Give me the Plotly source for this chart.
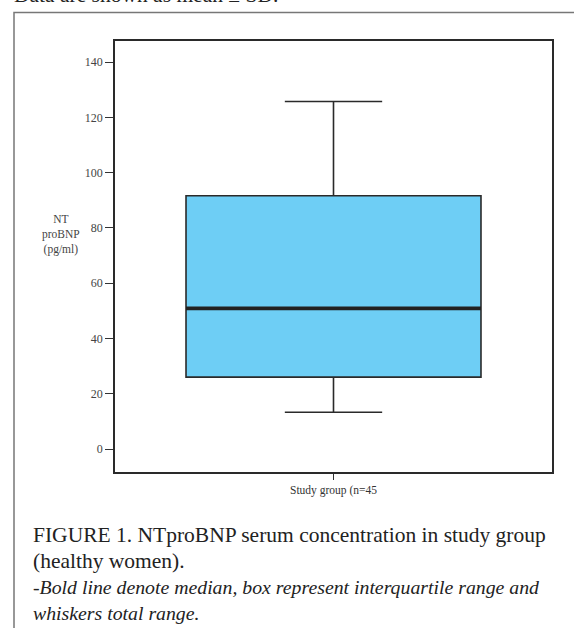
import plotly.graph_objects as go

# Data
group = ["Study group (n=45"]
lower_fence = [13.3]
q1 = [26.0]
median = [50.9]
q3 = [91.6]
upper_fence = [125.7]
y_ticks = [0, 20, 40, 60, 80, 100, 120, 140]

W, H = 574, 628
L, R, T, B = 115, 22, 41, 156
pw, ph = W - L - R, H - T - B

def px_x(p):
    return (p - L) / pw

def px_y(p):
    return (H - B - p) / ph

box_w = 0.675
fig = go.Figure()
fig.add_trace(go.Box(
    x=[0], q1=q1, median=median, q3=q3,
    lowerfence=lower_fence, upperfence=upper_fence,
    width=box_w, whiskerwidth=0.33,
    fillcolor="#6ECEF5",
    line=dict(color="#2a2a2a", width=1.6),
    boxpoints=False, showlegend=False, hoverinfo="skip",
))
# bold median line
fig.add_trace(go.Scatter(
    x=[-box_w / 2, box_w / 2], y=[median[0], median[0]],
    mode="lines", line=dict(color="#222222", width=3.6),
    showlegend=False, hoverinfo="skip",
))

serif = "Liberation Serif, Times New Roman, serif"

fig.update_layout(
    width=W, height=H,
    margin=dict(l=L, r=R, t=T, b=B),
    paper_bgcolor="white", plot_bgcolor="white",
    font=dict(family=serif, color="#333333"),
    xaxis=dict(
        range=[-0.5, 0.5], tickvals=[0], ticktext=group,
        ticks="outside", ticklen=6, tickcolor="#333333", tickwidth=1,
        tickfont=dict(size=11.5, color="#333333"),
        showline=True, linecolor="#2a2a2a", linewidth=1.5, mirror=True,
        showgrid=False, zeroline=False,
    ),
    yaxis=dict(
        range=[-8.3, 147.6], tickvals=y_ticks,
        ticks="outside", ticklen=8, tickcolor="#333333", tickwidth=1.2,
        tickfont=dict(size=12, color="#444444"),
        showline=True, linecolor="#2a2a2a", linewidth=1.5, mirror=True,
        showgrid=False, zeroline=False,
    ),
)

# outer frame
fig.add_shape(type="rect", xref="paper", yref="paper",
              x0=px_x(14), x1=px_x(590), y0=px_y(650), y1=px_y(12.5),
              line=dict(color="#777777", width=1.5), fillcolor="rgba(0,0,0,0)",
              layer="below")

# y title
fig.add_annotation(xref="paper", yref="paper", x=px_x(61), y=px_y(234),
                   text="NT<br>proBNP<br>(pg/ml)", showarrow=False,
                   font=dict(size=11.5, color="#444444"), align="center",
                   xanchor="center", yanchor="middle")

cap_font = dict(size=21.5, color="#222222", family=serif)
ital_font = dict(size=19.8, color="#222222", family=serif)
fig.add_annotation(xref="paper", yref="paper", x=px_x(31), y=px_y(535),
                   text="FIGURE 1. NTproBNP serum concentration in study group",
                   showarrow=False, font=cap_font, xanchor="left", yanchor="middle")
fig.add_annotation(xref="paper", yref="paper", x=px_x(31), y=px_y(561),
                   text="(healthy women).",
                   showarrow=False, font=cap_font, xanchor="left", yanchor="middle")
fig.add_annotation(xref="paper", yref="paper", x=px_x(31), y=px_y(587),
                   text="<i>-Bold line denote median, box represent interquartile range and</i>",
                   showarrow=False, font=ital_font, xanchor="left", yanchor="middle")
fig.add_annotation(xref="paper", yref="paper", x=px_x(31), y=px_y(613),
                   text="<i>whiskers total range.</i>",
                   showarrow=False, font=ital_font, xanchor="left", yanchor="middle")
# cut-off line at the very top (partly outside the page, as in the source)
fig.add_annotation(xref="paper", yref="paper", x=px_x(12), y=px_y(-5),
                   text="Data are shown as mean ± SD.",
                   showarrow=False, font=cap_font, xanchor="left", yanchor="middle")

fig.write_html("out.html",
               config={"displayModeBar": False},
               post_script="document.body.style.margin='0';document.body.style.overflow='hidden';")
